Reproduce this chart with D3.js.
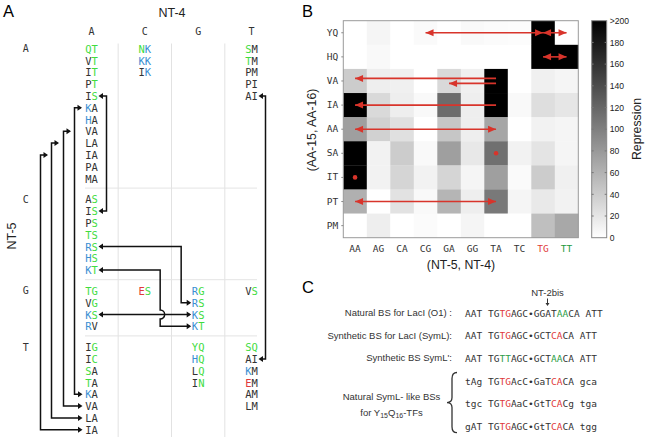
<!DOCTYPE html>
<html><head><meta charset="utf-8">
<script src="https://cdn.jsdelivr.net/npm/d3@7"></script>
<style>body{margin:0;background:#fff} svg{display:block}</style>
</head><body>
<svg id="c" width="650" height="437"></svg>
<script>
// ================= DATA =================
// Panel A
const nt4Bases = ["A","C","G","T"];
const nt5Bases = ["A","C","G","T"];
const groupRowCounts = [12,7,4,8];
// [NT-5 group, NT-4 column, row, residues, colour code per residue]
const cellsA = [
 [0,0,0,"QT","gg"],[0,0,1,"VT","kg"],[0,0,2,"IT","kg"],[0,0,3,"PT","kg"],[0,0,4,"IS","kg"],
 [0,0,5,"KA","bk"],[0,0,6,"HA","bk"],[0,0,7,"VA","kk"],[0,0,8,"LA","kk"],[0,0,9,"IA","kk"],
 [0,0,10,"PA","kk"],[0,0,11,"MA","kk"],
 [0,1,0,"NK","gb"],[0,1,1,"KK","bb"],[0,1,2,"IK","kb"],
 [0,3,0,"SM","gk"],[0,3,1,"TM","gk"],[0,3,2,"PM","kk"],[0,3,3,"PI","kk"],[0,3,4,"AI","kk"],
 [1,0,0,"AS","kg"],[1,0,1,"IS","kg"],[1,0,2,"PS","kg"],[1,0,3,"TS","gg"],[1,0,4,"RS","bg"],
 [1,0,5,"HS","bg"],[1,0,6,"KT","bg"],
 [2,0,0,"TG","gg"],[2,0,1,"VG","kg"],[2,0,2,"KS","bg"],[2,0,3,"RV","bk"],
 [2,1,0,"ES","rg"],
 [2,2,0,"RG","bg"],[2,2,1,"RS","bg"],[2,2,2,"KS","bg"],[2,2,3,"KT","bg"],
 [2,3,0,"VS","kg"],
 [3,0,0,"IG","kg"],[3,0,1,"IC","kg"],[3,0,2,"SA","gk"],[3,0,3,"TA","gk"],[3,0,4,"KA","bk"],
 [3,0,5,"VA","kk"],[3,0,6,"LA","kk"],[3,0,7,"IA","kk"],
 [3,2,0,"YQ","gg"],[3,2,1,"HQ","bg"],[3,2,2,"LQ","kg"],[3,2,3,"IN","kg"],
 [3,3,0,"SQ","gg"],[3,3,1,"AI","kk"],[3,3,2,"KM","bk"],[3,3,3,"EM","rk"],[3,3,4,"AM","kk"],[3,3,5,"LM","kk"]
];
// links between cells: from [group,col,row] to [group,col,row]
const linksA = [
 {from:[0,0,4], to:[1,0,1], kind:"right", lane:15},
 {from:[0,3,4], to:[3,3,1], kind:"right", lane:14},
 {from:[0,0,5], to:[3,0,4], kind:"left", lane:17},
 {from:[0,0,7], to:[3,0,5], kind:"left", lane:28},
 {from:[0,0,8], to:[3,0,6], kind:"left", lane:40},
 {from:[0,0,9], to:[3,0,7], kind:"left", lane:51},
 {from:[1,0,4], to:[2,2,1], kind:"across", lane:17},
 {from:[1,0,6], to:[2,2,3], kind:"across", lane:38, hopOver:[2,0,2]},
 {from:[2,0,2], to:[2,2,2], kind:"straight"}
];

// Panel B
const rowsB = ["YQ","HQ","VA","IA","AA","SA","IT","PT","PM"];
const colsB = ["AA","AG","CA","CG","GA","GG","TA","TC","TG","TT"];
const colLabelColors = ["k","k","k","k","k","k","k","k","r","g"];
const repression = [
 [0, 8, 0, 4, 0, 5, 3, 2, 200, 0],
 [0, 5, 0, 0, 0, 0, 0, 0, 200, 200],
 [40, 13, 12, 0, 30, 12, 200, 0, 12, 8],
 [200, 30, 13, 5, 115, 13, 200, 5, 26, 20],
 [75, 36, 24, 0, 45, 13, 70, 0, 10, 8],
 [200, 10, 40, 5, 75, 18, 112, 10, 21, 8],
 [200, 10, 33, 10, 33, 8, 75, 4, 40, 12],
 [62, 0, 23, 5, 58, 13, 105, 8, 17, 10],
 [0, 13, 0, 3, 0, 8, 0, 0, 50, 68]
];
const colorbarTicks = [0,20,40,60,80,100,120,140,160,180,200];
const arrowsB = [
 {row:"YQ", from:"CG", to:"TG", heads:2, dy:0},
 {row:"YQ", from:"TG", to:"TT", heads:2, dy:0},
 {row:"HQ", from:"TG", to:"TT", heads:2, dy:0},
 {row:"VA", from:"TA", to:"AA", heads:1, dy:-2.6},
 {row:"VA", from:"TA", to:"GA", heads:1, dy:2.4},
 {row:"IA", from:"TA", to:"AA", heads:1, dy:0},
 {row:"AA", from:"AA", to:"TA", heads:2, dy:0},
 {row:"PT", from:"AA", to:"TA", heads:2, dy:0}
];
const dotsB = [{row:"SA", col:"TA"},{row:"IT", col:"AA"}];

// Panel C
const seqLabels = ["Natural BS for LacI (O1) :","Synthetic BS for LacI (SymL):","Synthetic BS SymL':"];
const sequences = [
 "AAT TGTGAGC•GGATAACA ATT",
 "AAT TGTGAGC•GCTCACA ATT",
 "AAT TGTTAGC•GCTAACA ATT",
 "tAg TGTGAcC•GaTCACA gca",
 "tgc TGTGAaC•GtTCACg tga",
 "gAT TGTGAGC•GtTCACA tgg"
];
const seqColors = [
 "kkk kkrrkkkkkkkkggkk kkk",
 "kkk kkrrkkkkkkkrrkk kkk",
 "kkk kkggkkkkkkkggkk kkk",
 "kkk kkrrkkkkkkkrrkk kkk",
 "kkk kkrrkkkkkkkrrkk kkk",
 "kkk kkrrkkkkkkkrrkk kkk"
];

// ================= DRAW =================
const svg = d3.select("#c");
const SANS = "'Liberation Sans', Arial, sans-serif";
const MONO = "'DejaVu Sans Mono', monospace";
const colA = {g:"#3fdc3f", b:"#3a8fd2", r:"#e03a3a", k:"#333"};

// panel letters
svg.append("text").attr("x",3).attr("y",17).attr("font-family",SANS).attr("font-size",16.5).text("A");
svg.append("text").attr("x",302).attr("y",17).attr("font-family",SANS).attr("font-size",16.5).text("B");
svg.append("text").attr("x",302).attr("y",293).attr("font-family",SANS).attr("font-size",16.5).text("C");

// ---------- Panel A ----------
const gA = svg.append("g");
const xA = d3.scalePoint().domain(d3.range(4)).range([91.5, 251.5]);
const stepA = 11.8, gapA = 9, topA = 48.7;
const yA = (g, r) => topA + (d3.sum(groupRowCounts.slice(0,g)) + r) * stepA + g * gapA;
const colStep = xA.step();

// dividers
[0,1,2].forEach(i => {
  const x = (xA(i) + xA(i+1)) / 2;
  gA.append("line").attr("x1",x).attr("x2",x).attr("y1",43.5).attr("y2",437)
    .attr("stroke","#e2e2e2").attr("stroke-width",1);
});
[1,2,3].forEach(g => {
  const y = yA(g,0) - 11.2;
  gA.append("line").attr("x1",85).attr("x2",257).attr("y1",y).attr("y2",y)
    .attr("stroke","#e4e4e4").attr("stroke-width",1);
});

gA.append("text").attr("x",172).attr("y",13).attr("text-anchor","middle").attr("dominant-baseline","central")
  .attr("font-family",SANS).attr("font-size",12.5).attr("fill","#222").text("NT-4");
gA.append("text").attr("transform","translate(12,236) rotate(-90)").attr("text-anchor","middle")
  .attr("dominant-baseline","central").attr("font-family",SANS).attr("font-size",12.5).attr("fill","#222").text("NT-5");

gA.selectAll("text.hdr").data(nt4Bases).join("text").attr("class","hdr")
  .attr("x",(d,i)=>xA(i)).attr("y",31.7).attr("text-anchor","middle").attr("dominant-baseline","central")
  .attr("font-family",MONO).attr("font-size",10).attr("fill","#333").text(d=>d);
gA.selectAll("text.grp").data(nt5Bases).join("text").attr("class","grp")
  .attr("x",25.7).attr("y",(d,i)=>yA(i,0)).attr("text-anchor","middle").attr("dominant-baseline","central")
  .attr("font-family",MONO).attr("font-size",10).attr("fill","#333").text(d=>d);

const cellT = gA.selectAll("text.cell").data(cellsA).join("text").attr("class","cell")
  .attr("x",d=>xA(d[1])).attr("y",d=>yA(d[0],d[2])).attr("text-anchor","middle").attr("dominant-baseline","central")
  .attr("font-family",MONO).attr("font-size",10.5);
cellT.each(function(d){
  const t = d3.select(this);
  d[3].split("").forEach((ch,i)=>{ t.append("tspan").attr("fill",colA[d[4][i]]).text(ch); });
});

// markers
const defs = svg.append("defs");
defs.append("marker").attr("id","blk").attr("viewBox","-4 -4 8 8").attr("markerWidth",8).attr("markerHeight",8)
  .attr("markerUnits","userSpaceOnUse").attr("refX",0).attr("refY",0).attr("orient","auto-start-reverse")
  .append("path").attr("d","M-3,-3 L1.5,0 L-3,3 Z").attr("fill","#111");
defs.append("marker").attr("id","red").attr("viewBox","-9 -5 10 10").attr("markerWidth",10).attr("markerHeight",10)
  .attr("markerUnits","userSpaceOnUse").attr("refX",0).attr("refY",0).attr("orient","auto-start-reverse")
  .append("path").attr("d","M-8,-3.5 L0,0 L-8,3.5 Z").attr("fill","#d8342b");

const half = 8.5;
function linkPath(l){
  const [g1,c1,r1] = l.from, [g2,c2,r2] = l.to;
  const x1 = xA(c1), y1 = yA(g1,r1), x2 = xA(c2), y2 = yA(g2,r2);
  const p = d3.path();
  if (l.kind === "right") {
    const lane = x1 + l.lane;
    p.moveTo(x1+half, y1); p.lineTo(lane, y1); p.lineTo(lane, y2); p.lineTo(x2+half, y2);
  } else if (l.kind === "left") {
    const lane = x1 - l.lane;
    p.moveTo(lane+6, y1); p.lineTo(lane, y1); p.lineTo(lane, y2); p.lineTo(x2-half-2, y2);
  } else if (l.kind === "across") {
    const lane = x2 - l.lane;
    p.moveTo(x1+half, y1); p.lineTo(lane, y1);
    if (l.hopOver) {
      const yh = yA(l.hopOver[0], l.hopOver[2]);
      p.lineTo(lane, yh-4.5);
      p.arc(lane, yh, 4.5, -Math.PI/2, Math.PI/2, false);
    }
    p.lineTo(lane, y2); p.lineTo(x2-half, y2);
  } else {
    p.moveTo(x1+half, y1); p.lineTo(x2-half, y2);
  }
  return p.toString();
}
gA.selectAll("path.link").data(linksA).join("path").attr("class","link")
  .attr("d",linkPath).attr("fill","none").attr("stroke","#111").attr("stroke-width",1.5)
  .attr("marker-start",d=>d.kind==="left"?"url(#blk)":"url(#blk)").attr("marker-end","url(#blk)");

// ---------- Panel B ----------
const gB = svg.append("g");
const xB = d3.scaleBand().domain(colsB).range([343.3, 578.3]);
const yB = d3.scaleBand().domain(rowsB).range([20.7, 237.7]);
const gray = d3.scaleLinear().domain([0,200]).range(["#ffffff","#000000"]).clamp(true);

const cellsB = [];
repression.forEach((row,i)=>row.forEach((v,j)=>cellsB.push({r:rowsB[i], c:colsB[j], v})));
gB.selectAll("rect.hm").data(cellsB).join("rect").attr("class","hm")
  .attr("x",d=>xB(d.c)).attr("y",d=>yB(d.r)).attr("width",xB.bandwidth()+0.3).attr("height",yB.bandwidth()+0.3)
  .attr("fill",d=>gray(d.v));
gB.append("rect").attr("x",343.3).attr("y",20.7).attr("width",235).attr("height",217)
  .attr("fill","none").attr("stroke","#9a9a9a").attr("stroke-width",1);

const axL = gB.append("g").attr("transform","translate(343.3,0)")
  .call(d3.axisLeft(yB).tickSize(2).tickPadding(3));
axL.select(".domain").remove();
axL.selectAll("line").attr("stroke","#888");
axL.selectAll("text").attr("font-family",MONO).attr("font-size",9.5).attr("fill","#333");
const axB = gB.append("g").attr("transform","translate(0,237.7)")
  .call(d3.axisBottom(xB).tickSize(0).tickPadding(8));
axB.select(".domain").remove();
axB.selectAll("text").attr("font-family",MONO).attr("font-size",9.5)
  .attr("fill",(d,i)=>colLabelColors[i]==="r"?"#e03a3a":colLabelColors[i]==="g"?"#1e9a3c":"#333");

gB.append("text").attr("x",461).attr("y",265).attr("text-anchor","middle").attr("dominant-baseline","central")
  .attr("font-family",SANS).attr("font-size",12.3).attr("fill","#222").text("(NT-5, NT-4)");
gB.append("text").attr("transform","translate(312,130) rotate(-90)").attr("text-anchor","middle")
  .attr("dominant-baseline","central").attr("font-family",SANS).attr("font-size",12.3).attr("fill","#222").text("(AA-15, AA-16)");

// arrows
gB.selectAll("line.arr").data(arrowsB).join("line").attr("class","arr")
  .attr("x1",d=>xB(d.from)+xB.bandwidth()/2).attr("x2",d=>xB(d.to)+xB.bandwidth()/2)
  .attr("y1",d=>yB(d.row)+yB.bandwidth()/2+d.dy).attr("y2",d=>yB(d.row)+yB.bandwidth()/2+d.dy)
  .attr("stroke","#d8342b").attr("stroke-width",1.6)
  .attr("marker-end","url(#red)").attr("marker-start",d=>d.heads===2?"url(#red)":null);
gB.selectAll("circle.dot").data(dotsB).join("circle").attr("class","dot")
  .attr("cx",d=>xB(d.col)+xB.bandwidth()/2).attr("cy",d=>yB(d.row)+yB.bandwidth()/2)
  .attr("r",2.3).attr("fill","#d8342b");

// colorbar
const grad = defs.append("linearGradient").attr("id","cb").attr("x1",0).attr("x2",0).attr("y1",1).attr("y2",0);
grad.append("stop").attr("offset","0%").attr("stop-color",gray(0));
grad.append("stop").attr("offset","100%").attr("stop-color",gray(200));
const cbX = 591.7, cbW = 15;
const yCb = d3.scaleLinear().domain([0,200]).range([237.7,20.7]);
gB.append("rect").attr("x",cbX).attr("y",20.7).attr("width",cbW).attr("height",217)
  .attr("fill","url(#cb)").attr("stroke","#888").attr("stroke-width",1);
const axC = gB.append("g").attr("transform",`translate(${cbX+cbW},0)`)
  .call(d3.axisRight(yCb).tickValues(colorbarTicks).tickSize(0).tickPadding(3)
    .tickFormat(d=>d===200?">200":d));
axC.select(".domain").remove();
axC.selectAll("text").attr("font-family",SANS).attr("font-size",8.6).attr("fill","#222");
gB.selectAll("line.cbt").data(colorbarTicks.slice(1,-1)).join("line").attr("class","cbt")
  .attr("x1",cbX).attr("x2",cbX+2).attr("y1",d=>yCb(d)).attr("y2",d=>yCb(d)).attr("stroke","#777");
gB.selectAll("line.cbt2").data(colorbarTicks.slice(1,-1)).join("line").attr("class","cbt2")
  .attr("x1",cbX+cbW-2).attr("x2",cbX+cbW).attr("y1",d=>yCb(d)).attr("y2",d=>yCb(d)).attr("stroke","#777");
gB.append("text").attr("transform","translate(637,129) rotate(-90)").attr("text-anchor","middle")
  .attr("dominant-baseline","central").attr("font-family",SANS).attr("font-size",12.3).attr("fill","#222").text("Repression");

// ---------- Panel C ----------
const gC = svg.append("g");
const yC = d3.scaleLinear().domain([0,5]).range([312.7, 425.7]);
const colC = {k:"#333", r:"#e03a3a", g:"#2e9e48"};
gC.selectAll("text.lab").data(seqLabels).join("text").attr("class","lab")
  .attr("x",452).attr("y",(d,i)=>yC(i)).attr("text-anchor","end").attr("dominant-baseline","central")
  .attr("font-family",SANS).attr("font-size",9.5).attr("fill","#333").text(d=>d);
const seqT = gC.selectAll("text.seq").data(sequences).join("text").attr("class","seq")
  .attr("x",465).attr("y",(d,i)=>yC(i)).attr("dominant-baseline","central")
  .attr("font-family",MONO).attr("font-size",9.5).attr("xml:space","preserve").style("white-space","pre");
seqT.each(function(d,i){
  const t = d3.select(this);
  d.split("").forEach((ch,j)=>{ t.append("tspan").attr("fill",colC[seqColors[i][j]] || "#333").text(ch); });
});
gC.append("text").attr("x",547.5).attr("y",292.5).attr("text-anchor","middle").attr("dominant-baseline","central")
  .attr("font-family",SANS).attr("font-size",9.5).attr("fill","#333").text("NT-2bis");
gC.append("line").attr("x1",547.5).attr("x2",547.5).attr("y1",298.5).attr("y2",303.5).attr("stroke","#333").attr("stroke-width",1);
gC.append("path").attr("d","M545.5,303 L549.5,303 L547.5,306 Z").attr("fill","#333");

// brace
const bx = 452, by0 = yC(3)-8, by1 = yC(5)+7, bm = (by0+by1)/2;
gC.append("path").attr("d",`M${bx+5},${by0} Q${bx},${by0} ${bx},${by0+6} L${bx},${bm-5} Q${bx},${bm} ${bx-5},${bm} Q${bx},${bm} ${bx},${bm+5} L${bx},${by1-6} Q${bx},${by1} ${bx+5},${by1}`)
  .attr("fill","none").attr("stroke","#333").attr("stroke-width",1.3);

gC.append("text").attr("x",391.5).attr("y",396).attr("text-anchor","middle").attr("dominant-baseline","central")
  .attr("font-family",SANS).attr("font-size",9.5).attr("fill","#333").text("Natural SymL- like BSs");
const t2 = gC.append("text").attr("x",391.5).attr("y",412).attr("text-anchor","middle").attr("dominant-baseline","central")
  .attr("font-family",SANS).attr("font-size",9.5).attr("fill","#333");
t2.append("tspan").text("for Y");
t2.append("tspan").attr("font-size",7).attr("dy",2.5).text("15");
t2.append("tspan").attr("dy",-2.5).text("Q");
t2.append("tspan").attr("font-size",7).attr("dy",2.5).text("16");
t2.append("tspan").attr("dy",-2.5).text("-TFs");
</script>
</body></html>
